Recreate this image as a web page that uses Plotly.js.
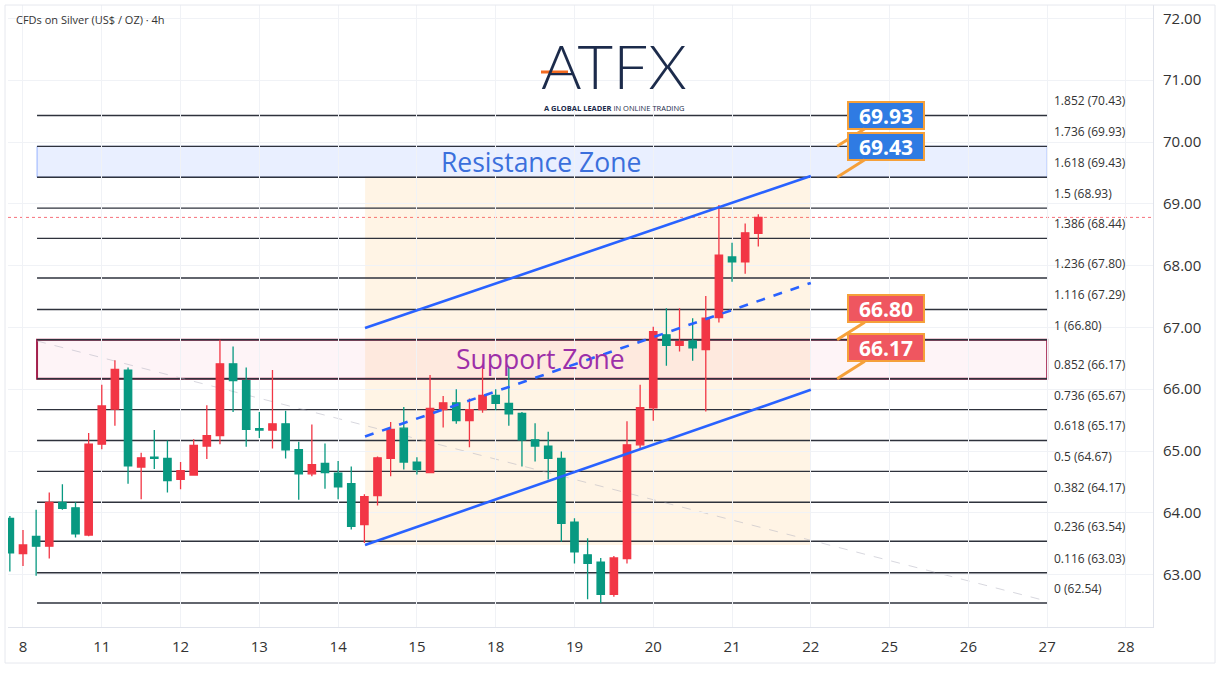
<!DOCTYPE html>
<html><head><meta charset="utf-8">
<script src="https://cdn.plot.ly/plotly-3.0.1.min.js"></script>
<style>html,body{margin:0;padding:0;background:#fff;} #chart{width:1221px;height:684px;}</style>
</head><body><div id="chart"></div>
<script>
// ---- data (4h candles) ----
const openP  = [63.91,63.34,63.62,63.46,64.17,64.08,63.64,65.11,65.68,66.31,64.74,64.90,64.88,64.54,64.61,65.08,65.25,66.41,66.14,65.36,65.34,65.44,65.02,64.63,64.80,64.64,64.47,63.81,64.28,64.88,65.37,64.82,64.65,65.67,65.78,65.49,65.67,65.90,65.77,65.61,65.18,65.08,64.88,63.85,63.32,63.20,62.68,63.26,65.10,65.70,66.88,66.71,66.78,66.64,67.16,68.14,68.06,68.52];
const highP  = [63.95,63.72,64.05,64.33,64.46,64.17,65.29,66.07,66.47,66.35,64.97,65.34,65.17,64.82,65.19,65.74,66.80,66.69,66.35,65.63,66.31,65.65,65.15,65.43,65.12,64.84,64.75,64.30,64.91,65.47,65.71,64.90,66.23,65.89,66.00,65.85,66.36,66.00,66.36,65.63,65.45,65.31,64.99,63.91,63.59,63.27,63.30,65.48,66.07,67.01,67.31,67.31,67.15,67.51,68.98,68.37,68.68,68.83];
const lowP   = [63.05,63.14,62.98,63.26,64.05,63.60,63.62,65.03,65.41,64.47,64.22,64.71,64.33,64.38,64.60,64.87,65.11,65.63,65.07,65.21,65.04,64.88,64.21,64.59,64.39,64.22,63.73,63.51,64.12,64.59,64.70,64.62,64.64,65.38,65.44,65.06,65.62,65.66,65.41,64.75,64.83,64.54,63.53,63.18,62.60,62.54,62.64,63.18,65.04,65.49,66.38,66.61,66.46,65.64,67.08,67.74,67.87,68.31];
const closeP = [63.35,63.48,63.46,64.17,64.07,63.66,65.11,65.73,66.32,64.76,64.89,64.88,64.52,64.68,65.09,65.25,66.41,66.14,65.35,65.34,65.44,65.02,64.63,64.78,64.65,64.42,63.78,64.26,64.89,65.35,64.82,64.70,65.69,65.78,65.49,65.67,65.90,65.77,65.60,65.18,65.08,64.88,63.83,63.37,63.18,62.68,63.27,65.10,65.70,66.93,66.71,66.77,66.67,67.15,68.17,68.06,68.53,68.78];
const firstBar = -1;   // first candle sits one bar before the "8" label

const dayLabels = ['8','11','12','13','14','15','18','19','20','21','22','25','26','27','28'];
const barsPerDay = 6;
const priceTicks = [63,64,65,66,67,68,69,70,71,72];

const fibRatios = ['0','0.116','0.236','0.382','0.5','0.618','0.736','0.852','1','1.116','1.236','1.386','1.5','1.618','1.736','1.852'];
const fibLevels = [62.54,63.03,63.54,64.17,64.67,65.17,65.67,66.17,66.80,67.29,67.80,68.44,68.93,69.43,69.93,70.43];
const fibSpan = [1.07, 78];          // bar positions where the fib drawing starts/ends

const resistanceZone = [69.43, 69.93];
const supportZone = [66.17, 66.80];

const channelBars = [26.05, 60];
const channelUpper = [66.99, 69.45];
const channelMid = [65.235, 67.72];
const channelLower = [63.48, 65.99];

const trendBars = [1.07, 78];
const trendPrices = [66.78, 62.57];

const calloutBar = 62;
const calloutBlue = [69.93, 69.43];
const calloutRed = [66.80, 66.17];

// ---- build ----
const xs = openP.map((_, i) => firstBar + i);
const UP = '#f23645', DOWN = '#089981';

const trace = {
  type: 'candlestick', x: xs, open: openP, high: highP, low: lowP, close: closeP,
  increasing: {line: {color: UP, width: 1.3}, fillcolor: UP},
  decreasing: {line: {color: DOWN, width: 1.3}, fillcolor: DOWN},
  whiskerwidth: 0, hoverinfo: 'skip', showlegend: false
};

const px2paperX = p => (p - 8) / 1145;
const px2paperY = p => (627 - p) / 622;

const shapes = [];
// channel background
shapes.push({type:'rect', xref:'x', yref:'y', x0:channelBars[0], x1:channelBars[1], y0:channelLower[0], y1:channelUpper[1],
  fillcolor:'rgba(255,152,0,0.10)', line:{width:0}, layer:'below'});
// zones
shapes.push({type:'rect', xref:'x', yref:'y', x0:fibSpan[0], x1:fibSpan[1], y0:resistanceZone[0], y1:resistanceZone[1],
  fillcolor:'rgba(41,98,255,0.10)', line:{color:'rgba(41,98,255,0.45)', width:1}, layer:'below'});
shapes.push({type:'rect', xref:'x', yref:'y', x0:fibSpan[0], x1:fibSpan[1], y0:supportZone[0], y1:supportZone[1],
  fillcolor:'rgba(233,30,99,0.05)', line:{color:'#a3204c', width:2}, layer:'below'});
// fib lines
fibLevels.forEach(v => shapes.push({type:'line', xref:'x', yref:'y', x0:fibSpan[0], x1:fibSpan[1], y0:v, y1:v,
  line:{color:'#2e323c', width:1.4}, layer:'below'}));
// faint trend line
shapes.push({type:'line', xref:'x', yref:'y', x0:trendBars[0], x1:trendBars[1], y0:trendPrices[0], y1:trendPrices[1],
  line:{color:'rgba(175,175,190,0.5)', width:1, dash:'dash'}, layer:'below'});
// current price
shapes.push({type:'line', xref:'paper', yref:'y', x0:0, x1:1, y0:closeP[closeP.length-1], y1:closeP[closeP.length-1],
  line:{color:'rgba(242,54,69,0.7)', width:1, dash:'dot'}, layer:'below'});
// channel lines
[[channelUpper,'solid'],[channelMid,'dash'],[channelLower,'solid']].forEach(([c,d]) =>
  shapes.push({type:'line', xref:'x', yref:'y', x0:channelBars[0], x1:channelBars[1], y0:c[0], y1:c[1],
    line:{color:'#2962ff', width:2.6, dash:d}, layer:'above'}));
// logo orange bar
shapes.push({type:'line', xref:'paper', yref:'paper', x0:px2paperX(541), x1:px2paperX(568), y0:px2paperY(72), y1:px2paperY(72),
  line:{color:'#f26b21', width:3}});
// outer frame
shapes.push({type:'rect', xref:'paper', yref:'paper', x0:px2paperX(5), x1:px2paperX(1215), y0:px2paperY(663), y1:px2paperY(5),
  line:{color:'#e6e8ee', width:1}, fillcolor:'rgba(0,0,0,0)'});

const annotations = [];
fibLevels.forEach((v, i) => annotations.push({x:78.4, y:v, xref:'x', yref:'y', xanchor:'left', yanchor:'bottom', yshift:4,
  text: fibRatios[i] + ' (' + v.toFixed(2) + ')', showarrow:false, font:{family:'Open Sans', size:12, color:'#333'}}));

annotations.push({x:(channelBars[0]+channelBars[1])/2 - 3.6, y:(resistanceZone[0]+resistanceZone[1])/2, xref:'x', yref:'y',
  text:'Resistance Zone', showarrow:false, font:{family:'Open Sans', size:26.5, color:'#3b6fdc'}});
annotations.push({x:(channelBars[0]+channelBars[1])/2 - 3.6, y:(supportZone[0]+supportZone[1])/2, xref:'x', yref:'y',
  text:'Support Zone', showarrow:false, font:{family:'Open Sans', size:26.5, color:'#9d2fa8'}});

function callout(v, bg) {
  return {x:calloutBar, y:v, xref:'x', yref:'y', text:'<b>' + v.toFixed(2) + '</b>', showarrow:true, ax:49, ay:-31,
    arrowhead:0, arrowwidth:3, arrowcolor:'#f5a03a', standoff:0,
    bgcolor:bg, bordercolor:'#f5a03a', borderwidth:2, borderpad:2, width:70, height:21,
    font:{family:'Open Sans', size:21, color:'#fff'}};
}
calloutBlue.forEach(v => annotations.push(callout(v, '#2f7be3')));
calloutRed.forEach(v => annotations.push(callout(v, '#ef5660')));

// title + logo
annotations.push({xref:'paper', yref:'paper', x:px2paperX(14), y:px2paperY(20), xanchor:'left', yanchor:'middle',
  text:'CFDs on Silver (US$ / OZ) · 4h', showarrow:false, font:{family:'Open Sans', size:11, color:'#333'}});
annotations.push({xref:'paper', yref:'paper', x:px2paperX(614), y:px2paperY(65), xanchor:'center', yanchor:'middle',
  text:'ATFX', showarrow:false, borderpad:0, font:{family:'Lato', size:62, color:'#1c2b4b', weight:300}});
annotations.push({xref:'paper', yref:'paper', x:px2paperX(614), y:px2paperY(108), xanchor:'center', yanchor:'middle',
  text:'<b>A GLOBAL LEADER</b> IN ONLINE TRADING', showarrow:false, borderpad:0, font:{family:'Open Sans', size:7.5, color:'#1c2b4b'}});

const layout = {
  width:1221, height:684, paper_bgcolor:'#fff', plot_bgcolor:'#fff',
  margin:{l:8, r:68, t:5, b:57}, showlegend:false, boxgap:0.2,
  xaxis:{type:'linear', range:[-1.142, 86.06], rangeslider:{visible:false},
    tickvals: dayLabels.map((_, i) => i * barsPerDay), ticktext: dayLabels,
    showgrid:true, gridcolor:'#f0f2f6', zeroline:false, showline:true, linecolor:'#e0e3eb',
    ticks:'outside', ticklen:6, tickcolor:'rgba(0,0,0,0)',
    tickfont:{family:'Open Sans', size:15, color:'#333'}, fixedrange:true},
  yaxis:{side:'right', range:[62.152, 72.217], tickvals:priceTicks, ticktext:priceTicks.map(v => v.toFixed(2)),
    showgrid:true, gridcolor:'#f0f2f6', zeroline:false, showline:true, linecolor:'#e0e3eb', mirror:false,
    ticks:'outside', ticklen:6, tickcolor:'rgba(0,0,0,0)',
    tickfont:{family:'Open Sans', size:15, color:'#333'}, fixedrange:true},
  shapes, annotations
};

Plotly.newPlot('chart', [trace], layout, {displayModeBar:false, staticPlot:true});
</script></body></html>
